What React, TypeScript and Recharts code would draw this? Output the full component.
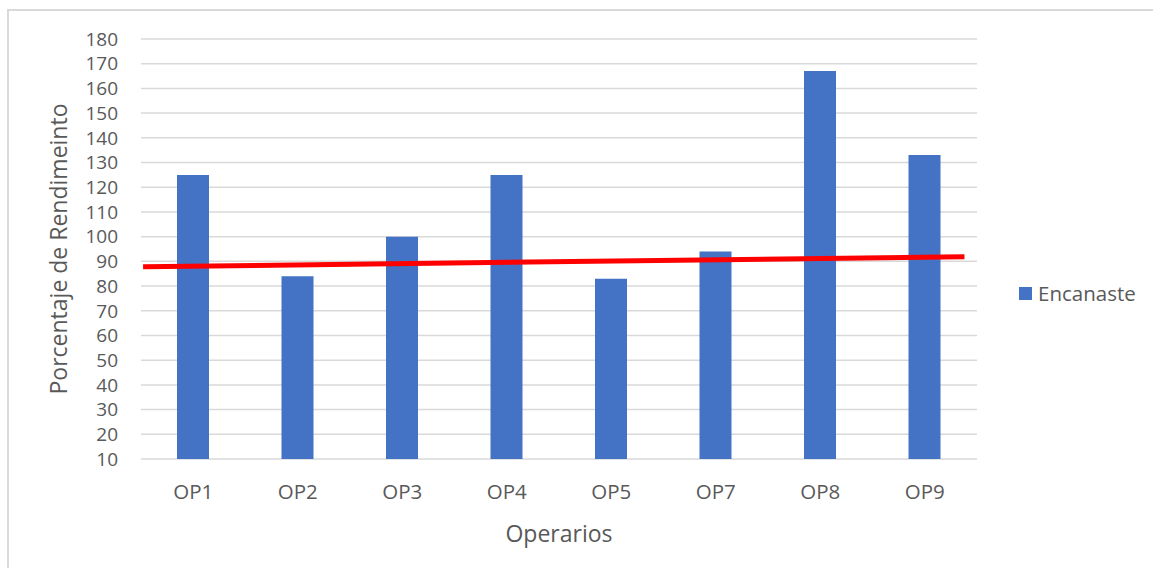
import {
  ComposedChart,
  Bar,
  Line,
  XAxis,
  YAxis,
  CartesianGrid,
} from 'recharts';

const operarios = ['OP1', 'OP2', 'OP3', 'OP4', 'OP5', 'OP7', 'OP8', 'OP9'];
const encanaste = [125, 84, 100, 125, 83, 94, 167, 133];
const yTicks = [10, 20, 30, 40, 50, 60, 70, 80, 90, 100, 110, 120, 130, 140, 150, 160, 170, 180];
// red line drawn over the bars, in category units (0 = left edge of plot, 8 = right edge)
const trendX = [0.02, 7.88];
const trendY = [87.8, 91.9];

const FONT = '"Open Sans", sans-serif';
const TEXT = '#595959';

export default function App() {
  const chartData = operarios.map((name, i) => ({ name, value: encanaste[i] }));
  const trendData = trendX.map((x, i) => ({ x, y: trendY[i] }));

  return (
    <div
      style={{
        position: 'absolute',
        left: 0,
        top: 0,
        width: 1153,
        height: 568,
        background: '#fff',
        fontFamily: FONT,
      }}
    >
      <div
        style={{
          position: 'absolute',
          left: 7,
          top: 9,
          right: 0,
          bottom: 0,
          borderTop: '2px solid #d9d9d9',
          borderLeft: '2px solid #d9d9d9',
        }}
      />
      <div style={{ position: 'absolute', left: 0, top: 0 }}>
        <ComposedChart
          width={1153}
          height={568}
          data={chartData}
          margin={{ top: 39, right: 176, bottom: 0, left: 0 }}
        >
          <CartesianGrid vertical={false} stroke="#d9d9d9" strokeWidth={1.5} />
          <XAxis
            dataKey="name"
            height={109}
            axisLine={false}
            tickLine={false}
            tickMargin={19}
            tick={{ fill: TEXT, fontSize: 20.5, fontFamily: FONT }}
            interval={0}
            label={{
              content: () => (
                <text
                  x={559}
                  y={533}
                  textAnchor="middle"
                  dominantBaseline="central"
                  fill={TEXT}
                  fontSize={23}
                  fontFamily={FONT}
                >
                  Operarios
                </text>
              ),
            }}
          />
          <XAxis xAxisId="trend" type="number" dataKey="x" domain={[0, 8]} hide allowDataOverflow />
          <YAxis
            domain={[10, 180]}
            ticks={yTicks}
            width={141}
            axisLine={false}
            tickLine={false}
            tickMargin={17}
            interval={0}
            tick={{ fill: TEXT, fontSize: 19, fontFamily: FONT }}
            label={{
              content: () => (
                <text
                  x={58}
                  y={249}
                  transform="rotate(-90 58 249)"
                  textAnchor="middle"
                  dominantBaseline="central"
                  fill={TEXT}
                  fontSize={23}
                  fontFamily={FONT}
                >
                  Porcentaje de Rendimeinto
                </text>
              ),
            }}
          />
          <Bar dataKey="value" name="Encanaste" fill="#4472C4" barSize={32} isAnimationActive={false} />
          <Line
            data={trendData}
            xAxisId="trend"
            dataKey="y"
            stroke="#FF0000"
            strokeWidth={5}
            dot={false}
            activeDot={false}
            legendType="none"
            isAnimationActive={false}
          />
        </ComposedChart>
      </div>
      <div
        style={{
          position: 'absolute',
          left: 1019,
          top: 279,
          display: 'flex',
          alignItems: 'center',
          color: TEXT,
          fontSize: 20.5,
          fontFamily: FONT,
        }}
      >
        <span style={{ width: 13, height: 13, background: '#4472C4', marginRight: 6 }} />
        Encanaste
      </div>
    </div>
  );
}
